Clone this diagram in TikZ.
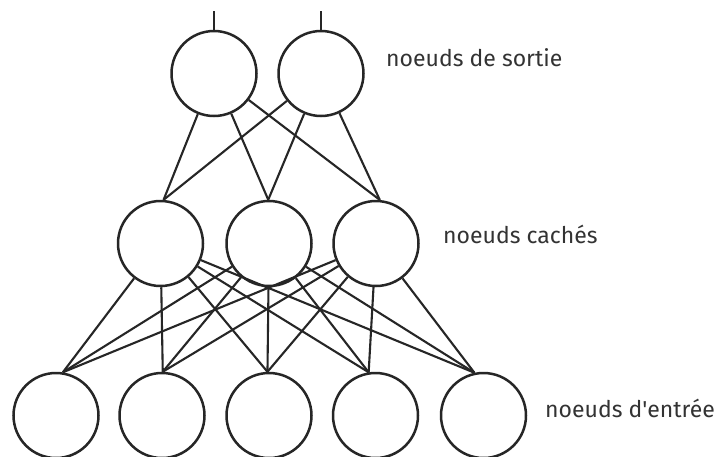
\documentclass[tikz,border=0pt]{standalone}
\usepackage{fontspec}
\setmainfont{Fira Sans}
\begin{document}
\begin{tikzpicture}[x=1pt,y=-1pt,
  neuron/.style={draw=black!85,circle,line width=2.5pt,minimum size=85pt,inner sep=0pt},
  link/.style={draw=black!85,line width=2.1pt},
  lbl/.style={anchor=base west,inner sep=0pt,font=\fontsize{23}{25}\selectfont,text=black!80}]
\clip (0,0) rectangle (722,456);
\fill[white] (0,0) rectangle (722,456);
% output
\node[neuron] (o1) at (214,73.5) {};
\node[neuron] (o2) at (321,73.5) {};
% hidden
\node[neuron] (h1) at (160.5,243.5) {};
\node[neuron] (h2) at (269,243.5) {};
\node[neuron] (h3) at (376,243.5) {};
% input
\node[neuron] (i1) at (56,415.5) {};
\node[neuron] (i2) at (162,415.5) {};
\node[neuron] (i3) at (269,415.5) {};
\node[neuron] (i4) at (375.5,415.5) {};
\node[neuron] (i5) at (483.5,415.5) {};
% output stubs
\coordinate (t1) at (214,11);
\coordinate (t2) at (321,11);
\draw[link] (o1.north) -- (t1);
\draw[link] (o2.north) -- (t2);
% output-hidden connections
\foreach \o in {o1,o2}{
  \draw[link] (\o) -- (h1.86);
  \draw[link] (\o) -- (h2.91);
  \draw[link] (\o) -- (h3.85);
}
% hidden-input connections
\foreach \h in {h1,h2,h3}{
  \draw[link] (\h) -- (i1.81);
  \draw[link] (\h) -- (i2.89);
  \draw[link] (\h) -- (i3.92);
  \draw[link] (\h) -- (i4.99);
  \draw[link] (\h) -- (i5.102);
}
% labels
\node[lbl] (ls) at (386,66) {noeuds de sortie};
\node[lbl] (lc) at (443,243) {noeuds cachés};
\node[lbl] (le) at (545,417) {noeuds d\textquotesingle entrée};
\end{tikzpicture}
\end{document}
